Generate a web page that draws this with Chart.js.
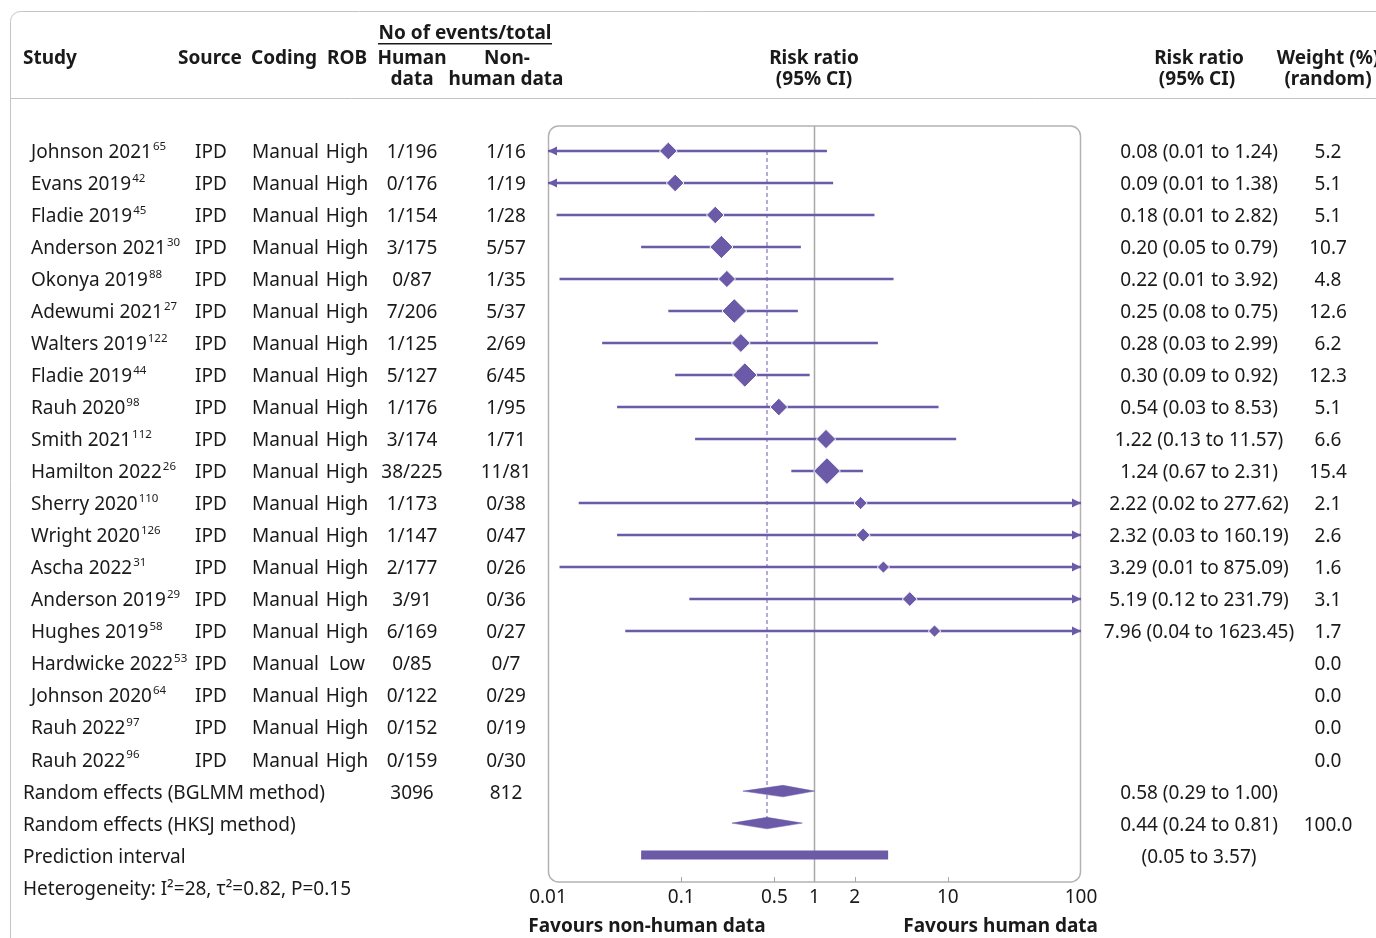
<!DOCTYPE html>
<html lang="en">
<head>
<meta charset="utf-8"/>
<title>Forest plot - human vs non-human data</title>
<script src="https://cdn.jsdelivr.net/npm/chart.js"></script>
<style>
  html, body { margin: 0; padding: 0; background: #fff; }
  #wrap { width: 1376px; height: 938px; position: relative; }
</style>
</head>
<body>
<div id="wrap"><canvas id="forest"></canvas></div>
<script>
// study rows
const studies = ['Johnson 2021', 'Evans 2019', 'Fladie 2019', 'Anderson 2021', 'Okonya 2019',
  'Adewumi 2021', 'Walters 2019', 'Fladie 2019', 'Rauh 2020', 'Smith 2021', 'Hamilton 2022',
  'Sherry 2020', 'Wright 2020', 'Ascha 2022', 'Anderson 2019', 'Hughes 2019', 'Hardwicke 2022',
  'Johnson 2020', 'Rauh 2022', 'Rauh 2022'];
const refs = ['65', '42', '45', '30', '88', '27', '122', '44', '98', '112', '26', '110', '126',
  '31', '29', '58', '53', '64', '97', '96'];
const sources = ['IPD', 'IPD', 'IPD', 'IPD', 'IPD', 'IPD', 'IPD', 'IPD', 'IPD', 'IPD',
  'IPD', 'IPD', 'IPD', 'IPD', 'IPD', 'IPD', 'IPD', 'IPD', 'IPD', 'IPD'];
const coding = ['Manual', 'Manual', 'Manual', 'Manual', 'Manual', 'Manual', 'Manual', 'Manual',
  'Manual', 'Manual', 'Manual', 'Manual', 'Manual', 'Manual', 'Manual', 'Manual', 'Manual',
  'Manual', 'Manual', 'Manual'];
const rob = ['High', 'High', 'High', 'High', 'High', 'High', 'High', 'High', 'High', 'High',
  'High', 'High', 'High', 'High', 'High', 'High', 'Low', 'High', 'High', 'High'];
const humanEvents = ['1/196', '0/176', '1/154', '3/175', '0/87', '7/206', '1/125', '5/127',
  '1/176', '3/174', '38/225', '1/173', '1/147', '2/177', '3/91', '6/169', '0/85', '0/122',
  '0/152', '0/159'];
const nonHumanEvents = ['1/16', '1/19', '1/28', '5/57', '1/35', '5/37', '2/69', '6/45', '1/95',
  '1/71', '11/81', '0/38', '0/47', '0/26', '0/36', '0/27', '0/7', '0/29', '0/19', '0/30'];
const rr = [0.08, 0.09, 0.18, 0.20, 0.22, 0.25, 0.28, 0.30, 0.54, 1.22, 1.24, 2.22, 2.32, 3.29,
  5.19, 7.96, null, null, null, null];
const ciLow = [0.006, 0.006, 0.0116, 0.05, 0.0122, 0.08, 0.0255, 0.09, 0.033, 0.127, 0.67, 0.017,
  0.033, 0.0122, 0.115, 0.038, null, null, null, null];
const ciHigh = [1.24, 1.38, 2.82, 0.79, 3.92, 0.75, 2.99, 0.92, 8.53, 11.57, 2.31, 277.62,
  160.19, 875.09, 231.79, 1623.45, null, null, null, null];
const weights = [5.2, 5.1, 5.1, 10.7, 4.8, 12.6, 6.2, 12.3, 5.1, 6.6, 15.4, 2.1, 2.6, 1.6, 3.1,
  1.7, 0.0, 0.0, 0.0, 0.0];

// pooled results
const summaryLabels = ['Random effects (BGLMM method)', 'Random effects (HKSJ method)', 'Prediction interval'];
const summaryRR = [0.58, 0.44];
const summaryLow = [0.29, 0.24];
const summaryHigh = [1.00, 0.81];
const summaryWeight = ['', '100.0'];
const totals = ['3096', '812'];
const predInterval = [0.05, 3.57];
const heterogeneity = 'Heterogeneity: I\u00b2=28, \u03c4\u00b2=0.82, P=0.15';

const tickValues = [0.01, 0.1, 0.5, 1, 2, 10, 100];

const purple = '#6a5aa8';
const dashPurple = '#9c90cb';
const ink = '#1a1a1a';
const grey = '#b3b3b3';
const FONT = '"Noto Sans", "DejaVu Sans", sans-serif';
const DY = 2; // baseline nudge for canvas text

const nRows = studies.length;
const rowBGLMM = nRows, rowHKSJ = nRows + 1, rowPred = nRows + 2, rowHet = nRows + 3;

const datasets = [];

// study estimates
datasets.push({
  data: rr.map((v, i) => v == null ? null : { x: v, y: i }).filter(p => p),
  pointStyle: 'rectRot',
  pointRadius: rr.map((v, i) => 2.6 + 2.75 * Math.sqrt(weights[i])).filter((r, i) => rr[i] != null),
  backgroundColor: purple,
  borderColor: '#fff',
  pointBorderWidth: 1,
  clip: false
});

// pooled diamonds
summaryRR.forEach((v, k) => {
  const r = rowBGLMM + k;
  datasets.push({
    data: [
      { x: summaryLow[k], y: r }, { x: v, y: r - 0.18 },
      { x: summaryHigh[k], y: r }, { x: v, y: r + 0.18 }, { x: summaryLow[k], y: r }
    ],
    showLine: true, fill: 'shape', borderWidth: 0.5, borderColor: purple,
    backgroundColor: purple, pointRadius: 0, tension: 0
  });
});

// prediction interval
datasets.push({
  data: [{ x: predInterval[0], y: rowPred }, { x: predInterval[1], y: rowPred }],
  showLine: true, borderColor: purple, borderWidth: 9, borderCapStyle: 'butt', pointRadius: 0
});

// confidence intervals
rr.forEach((v, i) => {
  if (v == null) return;
  datasets.push({
    data: [{ x: ciLow[i], y: i }, { x: ciHigh[i], y: i }],
    showLine: true, borderColor: purple, borderWidth: 2.5, pointRadius: 0, clip: 0
  });
});

// dashed line at the HKSJ estimate
datasets.push({
  data: [{ x: summaryRR[1], y: 0 }, { x: summaryRR[1], y: rowHKSJ }],
  showLine: true, borderColor: dashPurple, borderWidth: 1.5, borderDash: [4, 3], pointRadius: 0
});

function text(ctx, s, x, y, align, font) {
  ctx.font = font || ('19px ' + FONT);
  ctx.textAlign = align || 'left';
  ctx.fillText(s, x, y + DY);
}

const framePlugin = {
  id: 'frame',
  beforeDatasetsDraw(chart) {
    const { ctx, chartArea: a, scales: { x } } = chart;
    ctx.save();
    ctx.strokeStyle = grey;
    ctx.lineWidth = 1.5;
    ctx.beginPath();
    ctx.roundRect(a.left + 0.5, a.top, a.right - a.left - 1, a.bottom - a.top, 10);
    ctx.stroke();
    // reference line at 1
    const x1 = x.getPixelForValue(1);
    ctx.strokeStyle = '#a8a8a8';
    ctx.beginPath();
    ctx.moveTo(x1, a.top);
    ctx.lineTo(x1, a.bottom);
    ctx.stroke();
    // small inner ticks
    ctx.lineWidth = 1;
    tickValues.forEach(v => {
      if (v === 1 || v === x.min || v === x.max) return;
      const px = Math.round(x.getPixelForValue(v)) + 0.5;
      ctx.beginPath();
      ctx.moveTo(px, a.bottom);
      ctx.lineTo(px, a.bottom - 5);
      ctx.stroke();
    });
    ctx.restore();
  },
  afterDatasetsDraw(chart) {
    const { ctx, chartArea: a, scales: { x, y } } = chart;
    ctx.save();
    ctx.fillStyle = purple;
    rr.forEach((v, i) => {
      if (v == null) return;
      const py = y.getPixelForValue(i);
      if (ciLow[i] < x.min) {
        ctx.beginPath();
        ctx.moveTo(a.left, py);
        ctx.lineTo(a.left + 9, py - 4.5);
        ctx.lineTo(a.left + 9, py + 4.5);
        ctx.fill();
      }
      if (ciHigh[i] > x.max) {
        ctx.beginPath();
        ctx.moveTo(a.right, py);
        ctx.lineTo(a.right - 9, py - 4.5);
        ctx.lineTo(a.right - 9, py + 4.5);
        ctx.fill();
      }
    });
    ctx.restore();
  }
};

const tablePlugin = {
  id: 'table',
  afterDraw(chart) {
    const { ctx, scales: { y } } = chart;
    const bold = 'bold 19px ' + FONT;
    const fmt = (v, lo, hi) => v.toFixed(2) + ' (' + lo.toFixed(2) + ' to ' + hi.toFixed(2) + ')';
    ctx.save();

    // outer panel and header rule
    ctx.strokeStyle = '#c4c4c4';
    ctx.lineWidth = 1;
    ctx.beginPath();
    ctx.roundRect(10.5, 11.5, 1500, 1000, 10);
    ctx.stroke();
    ctx.beginPath();
    ctx.moveTo(10, 98.5);
    ctx.lineTo(1376, 98.5);
    ctx.stroke();

    ctx.fillStyle = ink;
    ctx.textBaseline = 'middle';

    // header
    text(ctx, 'No of events/total', 465, 32, 'center', bold);
    ctx.fillRect(378, 43, 174, 1.5);
    text(ctx, 'Study', 23, 57, 'left', bold);
    text(ctx, 'Source', 178, 57, 'left', bold);
    text(ctx, 'Coding', 251, 57, 'left', bold);
    text(ctx, 'ROB', 327, 57, 'left', bold);
    text(ctx, 'Human', 412, 57, 'center', bold);
    text(ctx, 'data', 412, 78, 'center', bold);
    text(ctx, 'Non-', 507, 57, 'center', bold);
    text(ctx, 'human data', 506, 78, 'center', bold);
    text(ctx, 'Risk ratio', 814, 57, 'center', bold);
    text(ctx, '(95% CI)', 814, 78, 'center', bold);
    text(ctx, 'Risk ratio', 1199, 57, 'center', bold);
    text(ctx, '(95% CI)', 1197, 78, 'center', bold);
    text(ctx, 'Weight (%)', 1328, 57, 'center', bold);
    text(ctx, '(random)', 1328, 78, 'center', bold);

    // study rows
    studies.forEach((name, i) => {
      const py = y.getPixelForValue(i);
      text(ctx, name, 31, py);
      const w = ctx.measureText(name).width;
      text(ctx, refs[i], 31 + w + 1, py - 6, 'left', '11.5px ' + FONT);
      text(ctx, sources[i], 211, py, 'center');
      text(ctx, coding[i], 252, py);
      text(ctx, rob[i], 347, py, 'center');
      text(ctx, humanEvents[i], 412, py, 'center');
      text(ctx, nonHumanEvents[i], 506, py, 'center');
      if (rr[i] != null) text(ctx, fmt(rr[i], ciLow[i], ciHigh[i]), 1199, py, 'center');
      text(ctx, weights[i].toFixed(1), 1328, py, 'center');
    });

    // pooled rows
    summaryLabels.forEach((s, k) => text(ctx, s, 23, y.getPixelForValue(rowBGLMM + k)));
    const pyB = y.getPixelForValue(rowBGLMM);
    text(ctx, totals[0], 412, pyB, 'center');
    text(ctx, totals[1], 506, pyB, 'center');
    summaryRR.forEach((v, k) => {
      const py = y.getPixelForValue(rowBGLMM + k);
      text(ctx, fmt(v, summaryLow[k], summaryHigh[k]), 1199, py, 'center');
      text(ctx, summaryWeight[k], 1328, py, 'center');
    });
    text(ctx, '(' + predInterval[0].toFixed(2) + ' to ' + predInterval[1].toFixed(2) + ')',
      1199, y.getPixelForValue(rowPred), 'center');
    text(ctx, heterogeneity, 23, y.getPixelForValue(rowHet));

    // axis captions
    text(ctx, 'Favours non-human data', 647, 925, 'center', bold);
    text(ctx, 'Favours human data', 1098, 925, 'right', bold);
    ctx.restore();
  }
};

new Chart(document.getElementById('forest'), {
  type: 'scatter',
  data: { datasets },
  options: {
    responsive: true,
    maintainAspectRatio: false,
    animation: false,
    events: [],
    layout: { padding: { left: 548, right: 295, top: 126, bottom: 0 } },
    plugins: { legend: { display: false }, tooltip: { enabled: false } },
    scales: {
      x: {
        type: 'logarithmic',
        min: 0.01,
        max: 100,
        afterBuildTicks: s => { s.ticks = tickValues.map(v => ({ value: v })); },
        afterFit: s => { s.height = 56; },
        grid: { display: false },
        border: { display: false },
        ticks: {
          autoSkip: false,
          maxRotation: 0,
          padding: -4,
          color: ink,
          font: { family: FONT, size: 19 },
          callback: v => String(v)
        }
      },
      y: { type: 'linear', reverse: true, min: -0.78, max: 22.84, display: false }
    }
  },
  plugins: [framePlugin, tablePlugin]
});
</script>
</body>
</html>
